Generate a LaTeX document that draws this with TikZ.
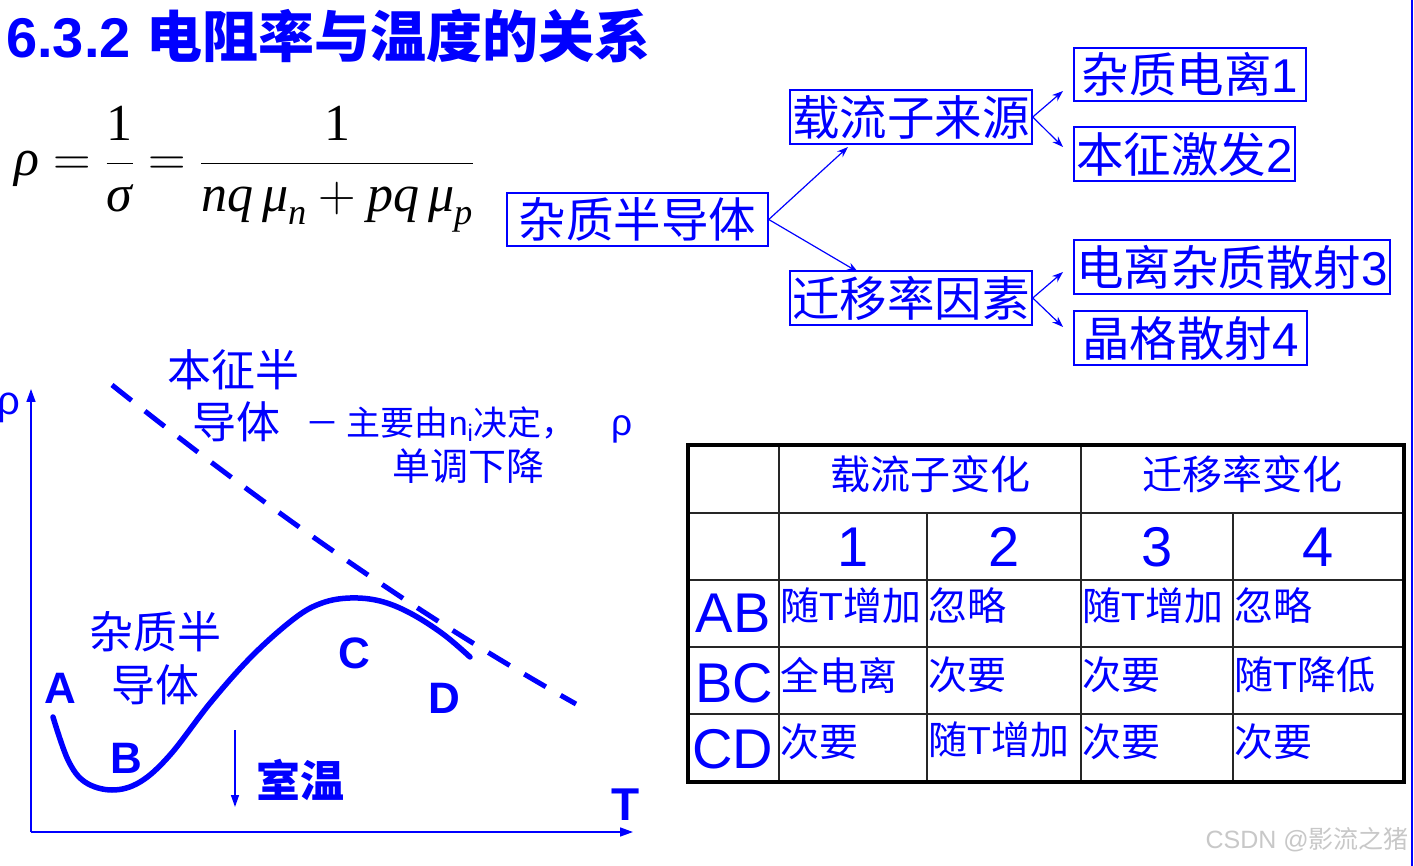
\documentclass[tikz,border=0pt]{standalone}
\usepackage{fix-cm}
\usepackage{amsmath}
\usepackage{fontspec}
\setmainfont{Liberation Sans}
\newfontfamily\cjk{Noto Sans CJK SC}
\newfontfamily\tms{Liberation Serif}
\usetikzlibrary{arrows.meta}
\definecolor{bl}{RGB}{0,0,255}
\definecolor{wm}{RGB}{200,200,200}
\newcommand{\fs}[1]{\fontsize{#1}{#1}\selectfont}
\newcommand{\la}[1]{{\rmfamily #1}}
\newcommand{\mi}[1]{\text{\tms\itshape #1}}
\newcommand{\mr}[1]{\text{\tms #1}}
\tikzset{
  box/.style={draw=bl, line width=1.5pt, inner sep=0pt, text=bl, font=\fs{47.5}\cjk},
  arr/.style={draw=bl, line width=1.2pt, -{Stealth[length=11pt,width=8pt]}},
  lbl/.style={text=bl, inner sep=0pt},
  big/.style={lbl, font=\fs{44}\bfseries},
  zh/.style={lbl, font=\fs{44}\cjk},
  thead/.style={lbl, font=\fs{40}\cjk},
  tnum/.style={lbl, font=\fs{56}},
  tcell/.style={lbl, anchor=west, font=\fs{39}\cjk},
  outer/.style={line width=4pt, draw=black},
  inner/.style={line width=2pt, draw=black!85},
  axis/.style={draw=bl, line width=1.5pt, -{Triangle[length=13pt,width=9pt]}}
}
\begin{document}
\begin{tikzpicture}[x=1pt,y=-1pt]
\useasboundingbox (0,0) rectangle (1414,866);
\fill[white] (0,0) rectangle (1414,866);
\draw[bl, line width=2.5pt] (1412,0) -- (1412,866);

% title
\node[lbl, anchor=base west, font=\fs{56}\bfseries] (title) at (6,58) {6.3.2 {\cjk 电阻率与温度的关系}};

% formula
\node[anchor=base west, inner sep=0pt] (formula) at (14,176) {\fs{52}$\mi{ρ} = \dfrac{\mr{1}}{\mi{σ}} = \dfrac{\mr{1}}{\mi{nq}\,\mi{μ}_{\mi{n}} + \mi{pq}\,\mi{μ}_{\mi{p}}}$};

% tree
\node[box, minimum width=261pt, minimum height=53pt] (zb) at (637.5,219.5) {杂质半导体};
\node[box, minimum width=242pt, minimum height=54pt] (zl) at (911,117) {载流子来源};
\node[box, minimum width=242pt, minimum height=54pt] (qy) at (911,298) {迁移率因素};
\node[box, minimum width=232pt, minimum height=53pt] (b1) at (1190,74.5) {杂质电离\la{1}};
\node[box, minimum width=221pt, minimum height=54pt] (b2) at (1184.5,154) {本征激发\la{2}};
\node[box, minimum width=316pt, minimum height=54pt] (b3) at (1232,267) {电离杂质散射\la{3}};
\node[box, minimum width=233pt, minimum height=54pt] (b4) at (1190.5,338) {晶格散射\la{4}};
\coordinate (t1) at (848,147);
\coordinate (t2) at (858,272);
\coordinate (t3) at (1063,91);
\coordinate (t4) at (1063,147);
\coordinate (t5) at (1063,272);
\coordinate (t6) at (1063,327);
\draw[arr] (zb.east) -- (t1);
\draw[arr] (zb.east) -- (t2);
\draw[arr] (zl.east) -- (t3);
\draw[arr] (zl.east) -- (t4);
\draw[arr] (qy.east) -- (t5);
\draw[arr] (qy.east) -- (t6);

% graph
\coordinate (O) at (31,832);
\coordinate (Yend) at (31,389);
\coordinate (Xend) at (633,832);
\draw[axis] (O) -- (Yend);
\draw[axis] (O) -- (Xend);
\node[lbl, font=\fs{40}] (rho) at (9,408) {ρ};
\node[big, font=\fs{46}\bfseries] (T) at (626,805) {T};
\draw[bl, line width=5pt, dash pattern=on 25pt off 17pt] (112,385) .. controls (250,495) and (400,605) .. (576,704);
\draw[bl, line width=5.5pt, line cap=round] plot[smooth, tension=0.6] coordinates {(53,717) (68,760) (85,782) (112,790) (140,782) (170,755) (211,702) (253,655) (295,618) (322,603) (350,598) (380,601) (410,613) (443,634) (470,657)};
\node[big] (A) at (60,688) {A};
\node[big] (B) at (126,758) {B};
\node[big] (C) at (354,653) {C};
\node[big] (D) at (444,698) {D};
\node[zh] (zz1) at (155,632) {杂质半};
\node[zh] (zz2) at (155,685) {导体};
\node[zh] (bz1) at (233,370) {本征半};
\node[zh] (bz2) at (236,422) {导体};
\node[lbl, anchor=west, font=\fs{34}\cjk] (note1) at (305,425) {－ 主要由\la{n\textsubscript{i}}决定，\hspace{1.05em}\la{\fs{37}ρ}};
\node[lbl, font=\fs{38}\cjk] (note2) at (468,466) {单调下降};
\coordinate (rt1) at (235,730);
\coordinate (rt2) at (235,807);
\draw[bl, line width=1.5pt, -{Triangle[length=12pt,width=8pt]}] (rt1) -- (rt2);
\node[zh, font=\fs{44}\cjk\bfseries] (sw) at (300,780) {室温};

% table
\draw[inner] (688,513) -- (1404,513);
\draw[inner] (688,580) -- (1404,580);
\draw[inner] (688,647) -- (1404,647);
\draw[inner] (688,714) -- (1404,714);
\draw[inner] (779,445) -- (779,782);
\draw[inner] (1081,445) -- (1081,782);
\draw[inner] (927,513) -- (927,782);
\draw[inner] (1233,513) -- (1233,782);
\draw[outer] (688,445) rectangle (1404,782);
\node[thead] (h1) at (930,474) {载流子变化};
\node[thead] (h2) at (1242,474) {迁移率变化};
\node[tnum] (n1) at (853,547) {1};
\node[tnum] (n2) at (1004,547) {2};
\node[tnum] (n3) at (1157,547) {3};
\node[tnum] (n4) at (1318,547) {4};
\node[tnum] (rAB) at (733,613) {AB};
\node[tnum] (rBC) at (734,683) {BC};
\node[tnum] (rCD) at (733,749) {CD};
\node[tcell] (c11) at (780,606) {随\la{T}增加};
\node[tcell] (c12) at (928,606) {忽略};
\node[tcell] (c13) at (1082,606) {随\la{T}增加};
\node[tcell] (c14) at (1234,606) {忽略};
\node[tcell] (c21) at (780,675) {全电离};
\node[tcell] (c22) at (928,675) {次要};
\node[tcell] (c23) at (1082,675) {次要};
\node[tcell] (c24) at (1234,675) {随\la{T}降低};
\node[tcell] (c31) at (780,742) {次要};
\node[tcell] (c32) at (928,740) {随\la{T}增加};
\node[tcell] (c33) at (1082,742) {次要};
\node[tcell] (c34) at (1234,742) {次要};

% watermark
\node[anchor=east, inner sep=0pt, text=wm, font=\fs{25}] (wmk) at (1409,840) {CSDN @{\cjk 影流之猪}};
\end{tikzpicture}
\end{document}
